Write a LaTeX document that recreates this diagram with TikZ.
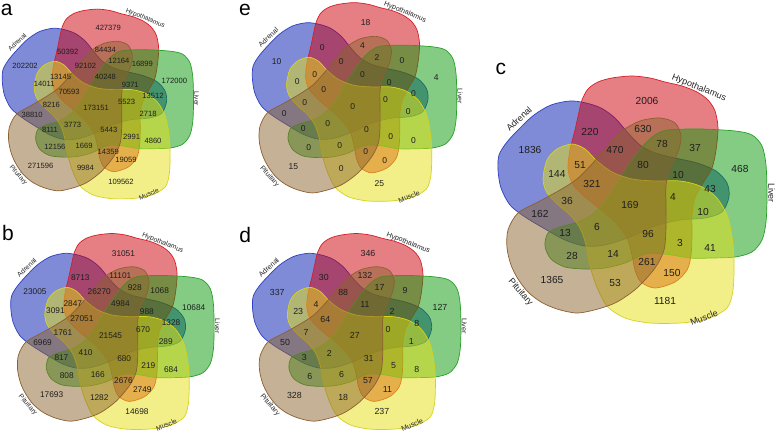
\documentclass[tikz,border=0pt]{standalone}
\usepackage{fontspec}
\setmainfont{Liberation Sans}
\definecolor{fA}{RGB}{0,25,175}
\definecolor{oA}{RGB}{45,65,190}
\definecolor{fH}{RGB}{205,0,10}
\definecolor{oH}{RGB}{215,30,40}
\definecolor{fL}{RGB}{10,155,10}
\definecolor{oL}{RGB}{40,160,40}
\definecolor{fM}{RGB}{230,225,20}
\definecolor{oM}{RGB}{215,210,30}
\definecolor{fP}{RGB}{140,100,45}
\definecolor{oP}{RGB}{140,95,50}
\definecolor{numc}{RGB}{30,30,30}
\def\numsz{8}
\def\labsz{7}
\tikzset{
  setA/.style={draw=oA, fill=fA, fill opacity=0.5, line width=0.7pt},
  setH/.style={draw=oH, fill=fH, fill opacity=0.5, line width=0.7pt},
  setL/.style={draw=oL, fill=fL, fill opacity=0.5, line width=0.7pt},
  setM/.style={draw=oM, fill=fM, fill opacity=0.5, line width=0.7pt},
  setP/.style={draw=oP, fill=fP, fill opacity=0.5, line width=0.7pt},
  num/.style={font=\fontsize{\numsz}{\numsz}\selectfont, text=numc, inner sep=0pt},
  lab/.style={font=\fontsize{\labsz}{\labsz}\selectfont, text=black!85, inner sep=0pt},
  letter/.style={font=\fontsize{21}{21}\selectfont, text=black, inner sep=0pt}
}
\def\PX{{530,647,590,643,615,662,695,740,580,643,557,592,678,710,567,630,673,703,540,597,648,565,680,710,572,613,647,672,552,615,665}}
\def\PY{{150,101,132,129,150,144,148,169,165,165,174,184,175,189,201,205,197,212,214,227,234,233,243,248,256,254,262,273,280,283,301}}
\newcommand\drawsets{%
  \draw[setA] plot[smooth cycle] coordinates {(498,170) (499,155) (507,142) (520,128) (534,115) (551,105) (570,101) (586,103) (601,108) (615,118) (628,133) (640,145) (655,153) (675,158) (697,163) (716,171) (727,183) (729,197) (722,212) (705,218) (680,220) (655,226) (630,237) (605,245) (585,246) (565,240) (545,229) (525,217) (510,205) (501,188)};
  \draw[setH] plot[smooth cycle] coordinates {(582,100) (588,89) (598,82) (612,78) (632,76) (650,78) (665,82) (682,86) (697,92) (708,100) (715,111) (718,128) (716,150) (712,168) (703,183) (695,198) (692,215) (692,235) (691,255) (687,270) (675,282) (655,288) (641,282) (635,270) (632,255) (627,238) (615,222) (600,209) (584,196) (572,183) (568,168) (570,150) (575,130) (579,112)};
  \draw[setL] plot[smooth cycle] coordinates {(655,135) (668,130) (700,129) (735,131) (752,135) (762,146) (766,165) (767,195) (766,222) (762,240) (752,252) (735,257) (712,258) (690,258) (665,254) (645,254) (625,263) (605,268) (585,269) (565,267) (551,259) (545,246) (548,233) (560,227) (578,222) (594,213) (608,197) (620,178) (632,160) (643,146)};
  \draw[setM] plot[smooth cycle] coordinates {(543,178) (547,160) (557,149) (572,144) (585,149) (597,161) (612,172) (632,179) (655,181) (680,181) (700,186) (716,197) (727,215) (732,237) (734,260) (733,290) (727,308) (707,319) (680,323) (650,323) (625,318) (607,306) (596,285) (589,262) (586,245) (580,228) (570,215) (556,203) (546,191)};
  \draw[setP] plot[smooth cycle] coordinates {(518,213) (540,201) (560,190) (577,179) (592,164) (607,147) (622,131) (640,121) (660,118) (675,123) (681,136) (678,152) (670,168) (666,185) (666,205) (666,228) (664,250) (655,268) (637,288) (617,302) (598,309) (577,313) (557,309) (541,302) (528,292) (518,279) (511,265) (507,248) (508,230)};
}
\newcommand\setlabels[1]{%
  \node[lab, rotate=43] (#1adrenal) at (519,119) {Adrenal};
  \node[lab, rotate=-22] (#1hypo) at (699,88) {Hypothalamus};
  \node[lab, rotate=-90] (#1liver) at (771.5,193) {Liver};
  \node[lab, rotate=22] (#1muscle) at (704,317.5) {Muscle};
  \node[lab, rotate=-49] (#1pit) at (520.5,292.5) {Pituitary};
}
\newcommand\placenums[2]{%
  \foreach \v [count=\i] in {#2} {%
    \pgfmathsetmacro\px{\PX[\i-1]}%
    \pgfmathsetmacro\py{\PY[\i-1]}%
    \node[num] (#1n\i) at (\px,\py) {\v};
  }%
}
\begin{document}
\begin{tikzpicture}[x=1pt, y=-1pt]
\fill[white] (0,0) rectangle (777,433);
\useasboundingbox (0,0) rectangle (777,433);
% panel a
\begin{scope}[shift={(-351.8,-49.2)}, xscale=0.711, yscale=0.767]
  \drawsets
  \def\labsz{6.5}\def\numsz{7.6}
  \setlabels{a}
  \placenums{a}{202202,427379,50392,84434,92102,12164,16899,172000,13145,40248,14011,70593,9371,13512,8216,173151,5523,2718,38810,3773,5443,8111,2991,4860,12156,1669,14359,19059,271596,9984,109562}
\end{scope}
% panel b
\begin{scope}[shift={(-365.7,173.3)}, xscale=0.756, yscale=0.792]
  \drawsets
  \def\labsz{6.8}\def\numsz{8.3}
  \setlabels{b}
  \placenums{b}{23005,31051,8713,11101,26270,928,1068,10684,2847,4984,3091,27051,988,1328,1761,21545,670,289,6969,410,680,817,219,684,808,166,2676,2749,17693,1282,14698}
\end{scope}
% panel e
\begin{scope}[shift={(-126.1,-58.4)}, xscale=0.76, yscale=0.803]
  \drawsets
  \def\labsz{7}\def\numsz{8.5}
  \setlabels{e}
  \placenums{e}{10,18,0,4,0,2,0,4,0,0,0,0,0,0,0,0,0,0,0,0,0,0,0,0,0,0,0,0,15,0,25}
\end{scope}
% panel d
\begin{scope}[shift={(-133.45,173.3)}, xscale=0.775, yscale=0.792]
  \drawsets
  \def\labsz{7.2}\def\numsz{8.8}
  \setlabels{d}
  \placenums{d}{337,346,30,132,88,17,9,127,4,11,23,64,2,8,7,27,0,1,50,2,31,3,5,8,6,6,57,11,328,18,237}
\end{scope}
% panel c
\begin{scope}
  \drawsets
  \def\labsz{9}\def\numsz{10.2}
  \setlabels{c}
  \placenums{c}{1836,2006,220,630,470,78,37,468,51,80,144,321,10,43,36,169,4,10,162,6,96,13,3,41,28,14,261,150,1365,53,1181}
\end{scope}
\node[letter] (la) at (6.7,9.5) {a};
\node[letter] (lb) at (8,233.3) {b};
\node[letter] (le) at (245,9.5) {e};
\node[letter] (ld) at (245.3,235.3) {d};
\node[letter] (lc) at (500.8,68.7) {c};
\end{tikzpicture}
\end{document}
